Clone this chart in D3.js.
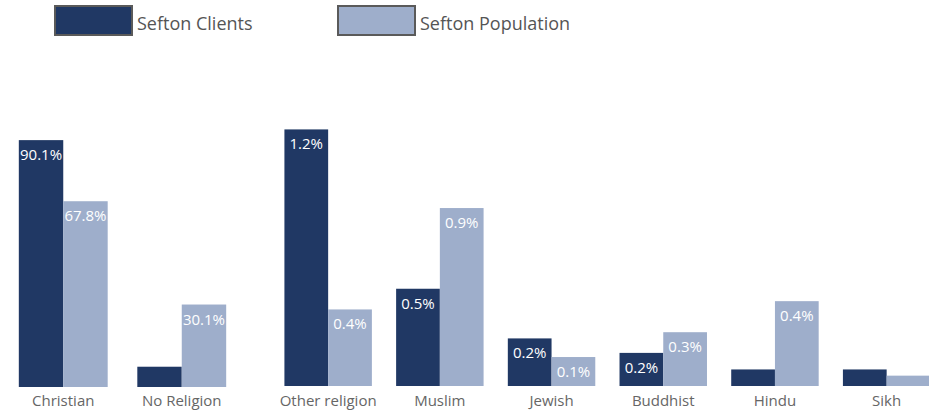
<!DOCTYPE html>
<html>
<head>
<meta charset="utf-8">
<script src="https://cdn.jsdelivr.net/npm/d3@7"></script>
<style>
  body { margin: 0; background: #fff; }
  svg { display: block; font-family: "Open Sans", sans-serif; }
</style>
</head>
<body>
<div id="chart"></div>
<script>
// two panels, each with its own y scale
var bigCategories = ["Christian", "No Religion"];
var bigClients = [90.1, 7.4];
var bigPopulation = [67.8, 30.1];

var smallCategories = ["Other religion", "Muslim", "Jewish", "Buddhist", "Hindu", "Sikh"];
var smallClients = [1.24, 0.47, 0.23, 0.16, 0.08, 0.08];
var smallPopulation = [0.37, 0.86, 0.14, 0.26, 0.41, 0.05];

var seriesNames = ["Sefton Clients", "Sefton Population"];
var seriesColors = ["#203864", "#9eaecb"];

var w = 929, h = 412;

var svg = d3.select("#chart").append("svg")
  .attr("width", w)
  .attr("height", h);

// legend
var legendX = [55, 338];
var legend = svg.append("g").attr("class", "legend");
seriesNames.forEach(function(name, i) {
  legend.append("rect")
    .attr("x", legendX[i])
    .attr("y", 6)
    .attr("width", 77)
    .attr("height", 29)
    .attr("fill", seriesColors[i])
    .attr("stroke", "#5a5a5a")
    .attr("stroke-width", 2);
  legend.append("text")
    .attr("x", legendX[i] + 82)
    .attr("y", 30)
    .attr("font-size", 18)
    .attr("fill", "#555")
    .text(name);
});

function drawPanel(categories, clients, population, xRange, pInner, y) {
  var rows = categories.map(function(c, i) {
    return { cat: c, values: [clients[i], population[i]] };
  });

  var x = d3.scaleBand()
    .domain(categories)
    .range(xRange)
    .paddingInner(pInner)
    .paddingOuter(pInner / 2);

  var xs = d3.scaleBand()
    .domain([0, 1])
    .range([0, x.bandwidth()]);

  var base = y(0);

  var groups = svg.append("g").selectAll("g")
    .data(rows)
    .enter()
    .append("g")
    .attr("transform", function(d) { return "translate(" + x(d.cat) + ",0)"; });

  var cells = groups.selectAll("g.bar")
    .data(function(d) { return d.values.map(function(v, i) { return { i: i, value: v }; }); })
    .enter()
    .append("g")
    .attr("class", "bar");

  cells.append("rect")
    .attr("x", function(d) { return xs(d.i); })
    .attr("y", function(d) { return y(d.value); })
    .attr("width", xs.bandwidth())
    .attr("height", function(d) { return base - y(d.value); })
    .attr("fill", function(d) { return seriesColors[d.i]; });

  // labels only where the bar is tall enough
  cells.filter(function(d) { return base - y(d.value) >= 25; })
    .append("text")
    .attr("x", function(d) { return xs(d.i) + xs.bandwidth() / 2; })
    .attr("y", function(d) { return y(d.value) + 20; })
    .attr("text-anchor", "middle")
    .attr("font-size", 15)
    .attr("fill", "#fff")
    .text(function(d) { return d.value.toFixed(1) + "%"; });

  groups.append("text")
    .attr("x", x.bandwidth() / 2)
    .attr("y", 406)
    .attr("text-anchor", "middle")
    .attr("font-size", 15)
    .attr("fill", "#666")
    .text(function(d) { return d.cat; });
}

var yBig = d3.scaleLinear().domain([0, 100]).range([387, 113]);
var ySmall = d3.scaleLinear().domain([0, 1.3]).range([386, 117]);

drawPanel(bigCategories, bigClients, bigPopulation, [4, 241], 0.25, yBig);
drawPanel(smallCategories, smallClients, smallPopulation, [272.3, 942.5], 0.217, ySmall);
</script>
</body>
</html>
